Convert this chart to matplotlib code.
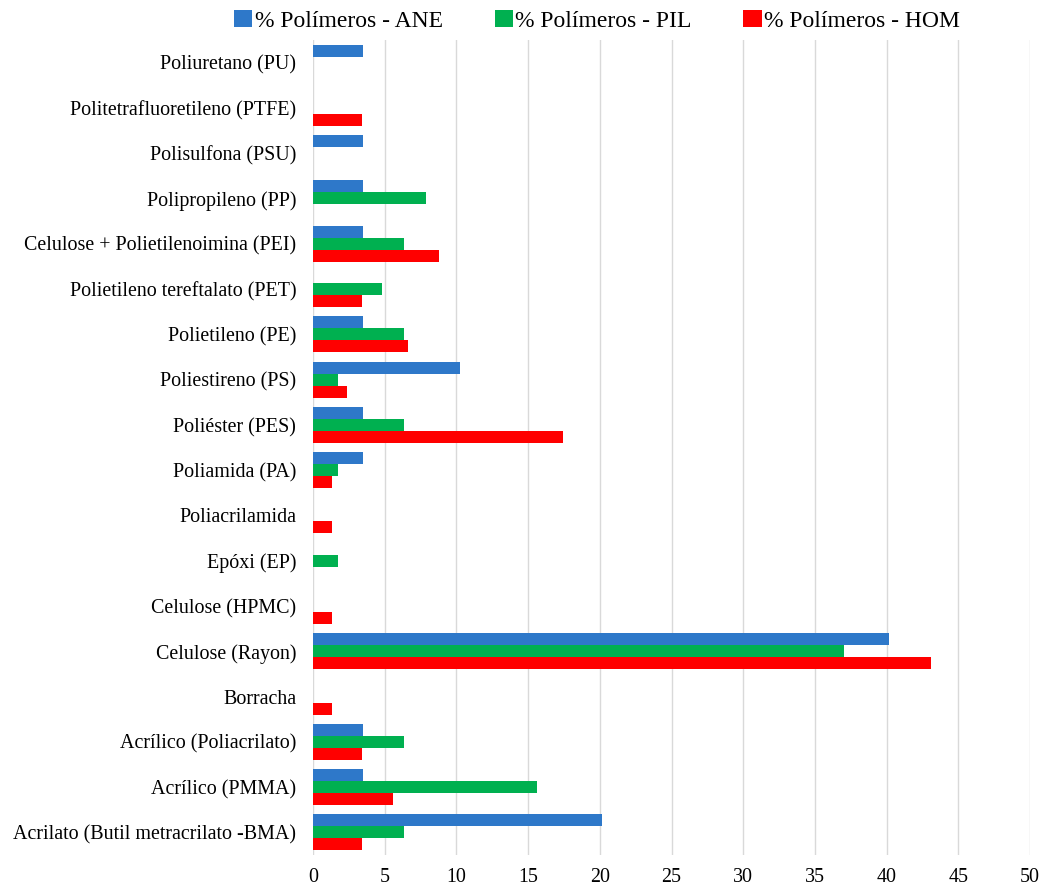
import matplotlib
matplotlib.use("Agg")
import matplotlib.pyplot as plt
import numpy as np

plt.rcParams['font.family'] = ['Liberation Serif', 'DejaVu Serif']

categories = [
    "Acrilato (Butil metracrilato -BMA)",
    "Acrílico (PMMA)",
    "Acrílico (Poliacrilato)",
    "Borracha",
    "Celulose (Rayon)",
    "Celulose (HPMC)",
    "Epóxi (EP)",
    "Poliacrilamida",
    "Poliamida (PA)",
    "Poliéster (PES)",
    "Poliestireno (PS)",
    "Polietileno (PE)",
    "Polietileno tereftalato (PET)",
    "Celulose + Polietilenoimina (PEI)",
    "Polipropileno (PP)",
    "Polisulfona (PSU)",
    "Politetrafluoretileno (PTFE)",
    "Poliuretano (PU)",
]

ane = [20.15, 3.5, 3.5, 0, 40.2, 0, 0, 0, 3.5, 3.5, 10.25, 3.5, 0, 3.5, 3.5, 3.5, 0, 3.5]
pil = [6.35, 15.6, 6.35, 0, 37.05, 0, 1.75, 0, 1.75, 6.35, 1.75, 6.35, 4.8, 6.35, 7.9, 0, 0, 0]
hom = [3.4, 5.6, 3.4, 1.3, 43.1, 1.3, 0, 1.3, 1.3, 17.4, 2.35, 6.65, 3.4, 8.8, 0, 0, 3.4, 0]

series_names = ["% Polímeros - ANE", "% Polímeros - PIL", "% Polímeros - HOM"]
colors = ["#2E78C9", "#00B050", "#FF0000"]

W, H = 1044, 888
fig = plt.figure(figsize=(W / 100, H / 100), dpi=100)
ax = fig.add_axes([313 / W, (H - 855) / H, (1030 - 313) / W, 815 / H])

y = np.arange(len(categories))
bh = 0.265
offsets = [bh, 0, -bh]
for vals, off, c, name in zip([ane, pil, hom], offsets, colors, series_names):
    ax.barh(y + off, vals, height=bh, color=c, linewidth=0, label=name, zorder=3)

ax.set_xlim(0, 50)
ax.set_ylim(-0.5, len(categories) - 0.5)
ax.set_xticks(np.arange(0, 51, 5))
ax.set_yticks(y)
ax.set_yticklabels(categories)
ax.tick_params(axis='both', length=0, labelsize=14.4, colors='black')
ax.tick_params(axis='x', pad=9)
ax.tick_params(axis='y', pad=12)
ax.grid(axis='x', color='#D9D9D9', linewidth=1, zorder=0)
for s in ax.spines.values():
    s.set_visible(False)

handles, labels = ax.get_legend_handles_labels()
fig.legend(handles, labels, loc='center', bbox_to_anchor=(597 / W, 1 - 21 / H),
           ncol=3, frameon=False, fontsize=17, handlelength=0.77, handleheight=0.72,
           handletextpad=0.1, columnspacing=2.2, borderpad=0)

fig.savefig("out.png", dpi=100)
